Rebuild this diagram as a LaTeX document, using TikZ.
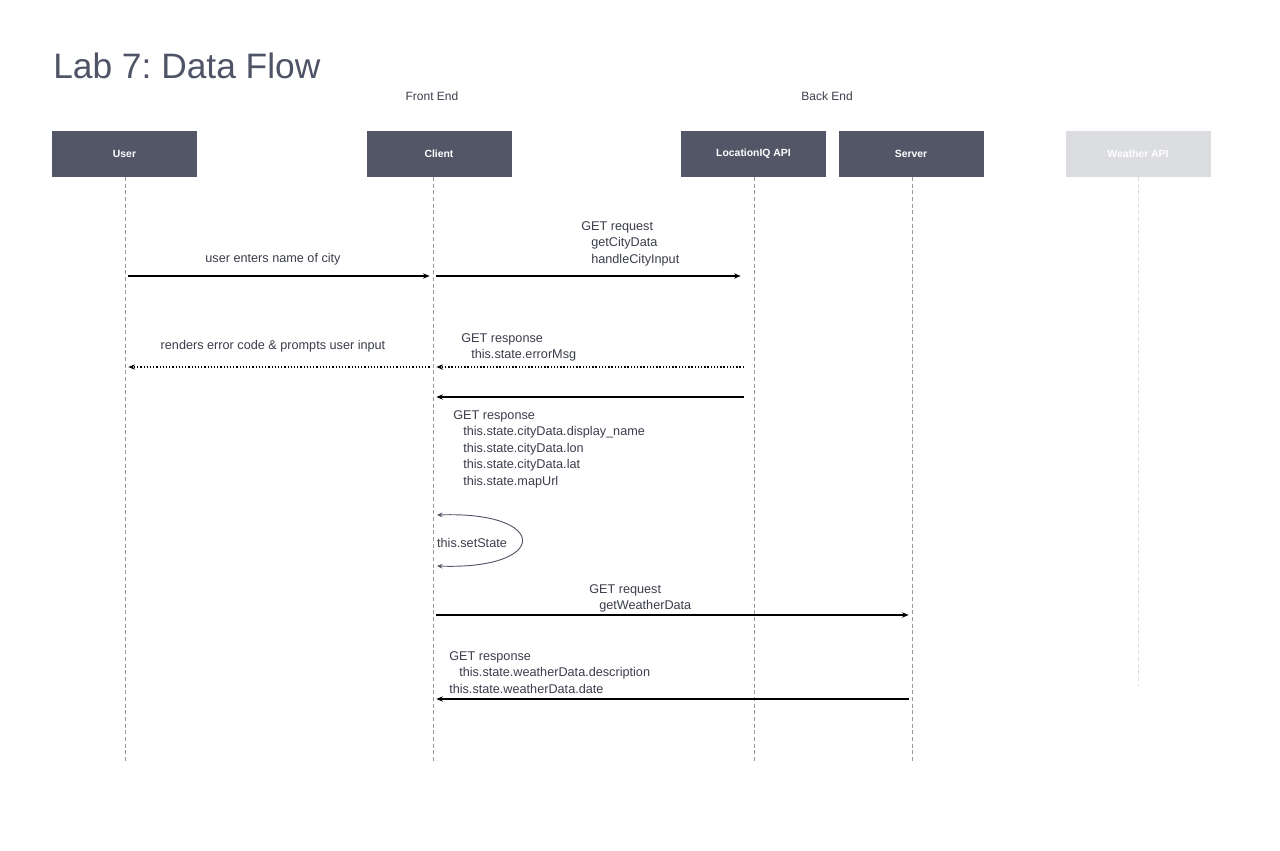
\documentclass[tikz,border=0pt]{standalone}
\usepackage{fontspec}
\setmainfont{Liberation Sans}
\usetikzlibrary{arrows.meta}
\definecolor{slate}{HTML}{525667}
\definecolor{titlegray}{HTML}{4F5366}
\definecolor{inkgray}{HTML}{3A3D4A}
\definecolor{paleblock}{HTML}{DCDDE0}
\tikzset{
  actor/.style={fill=slate,minimum width=108.75pt,minimum height=34.5pt,inner sep=0,
    text=white,font=\bfseries\fontsize{7.8}{9}\selectfont},
  life/.style={draw=gray!80,dashed,line width=0.5pt,dash pattern=on 3pt off 2pt},
  msg/.style={line width=1.1pt,-{Stealth[length=5pt,width=4pt]},shorten >=2.5pt,shorten <=2.5pt},
  reply/.style={msg,dash pattern=on 1pt off 1.4pt},
  note/.style={inner sep=0,text=inkgray,align=left,font=\fontsize{9.5}{12.4}\selectfont},
  group/.style={inner sep=0,text=inkgray,font=\fontsize{9}{11}\selectfont}
}
\newcommand{\ind}{\hspace*{7.5pt}}
\frenchspacing
\begin{document}
\begin{tikzpicture}[x=0.75pt,y=-0.75pt]
\useasboundingbox (0,0) rectangle (1280,850);
\node[anchor=base west,inner sep=0,text=titlegray,font=\fontsize{26.5}{30}\selectfont] (title) at (53,78) {Lab 7: Data Flow};
\node[group] (front) at (432,96) {Front End};
\node[group] (back) at (827,96) {Back End};

% actors
\node[actor] (user) at (124.5,154) {User};
\node[actor] (client) at (439,154) {Client};
\node[actor] (loc) at (753.5,154) {LocationIQ API};
\node[actor] (server) at (911,154) {Server};
\node[actor,fill=paleblock] (weather) at (1138,154) {Weather API};

% lifelines
\draw[life] (125,177) coordinate (userTop) -- (125,762) coordinate (userBot);
\draw[life] (433,177) coordinate (clientTop) -- (433,762) coordinate (clientBot);
\draw[life] (754,177) coordinate (locTop) -- (754,762) coordinate (locBot);
\draw[life] (912,177) coordinate (serverTop) -- (912,762) coordinate (serverBot);
\draw[life,draw=paleblock] (1138,177) coordinate (weatherTop) -- (1138,686) coordinate (weatherBot);

% message points
\coordinate (u1) at (125,276); \coordinate (c1) at (433,276); \coordinate (l1) at (744,276);
\coordinate (u2) at (125,367); \coordinate (c2) at (433,367); \coordinate (l2) at (744,367);
\coordinate (c3) at (433,397); \coordinate (l3) at (744,397);
\coordinate (s1) at (437,515); \coordinate (s2) at (437,566);
\coordinate (c4) at (433,615); \coordinate (v4) at (912,615);
\coordinate (c5) at (433,699); \coordinate (v5) at (912,699);

\draw[msg] (u1) -- (c1);
\node[note] (m1) at (273,259) {user enters name of city};
\draw[msg] (c1) -- (l1);
\node[note,anchor=north west] (m2) at (581,221) {GET request\\ \ind getCityData\\ \ind handleCityInput};

\draw[reply,shorten <=0pt] (l2) -- (c2);
\node[note,anchor=north west] (m3) at (461,333) {GET response\\ \ind this.state.errorMsg};
\draw[reply] (c2) -- (u2);
\node[note] (m4) at (273,346) {renders error code \& prompts user input};

\draw[msg,shorten <=0pt] (l3) -- (c3);
\node[note,anchor=north west] (m5) at (453,410) {GET response\\ \ind this.state.cityData.display\_name\\ \ind this.state.cityData.lon\\ \ind this.state.cityData.lat\\ \ind this.state.mapUrl};

\draw[draw=slate,line width=0.7pt,{Stealth[length=4pt,width=3.5pt]}-{Stealth[length=4pt,width=3.5pt]}]
  (s1) .. controls (550,511) and (550,570) .. (s2);
\node[note] (loop) at (472,543) {this.setState};

\draw[msg] (c4) -- (v4);
\node[note,anchor=north west] (m7) at (589,584) {GET request\\ \ind getWeatherData};
\draw[msg] (v5) -- (c5);
\node[note,anchor=north west] (m8) at (449,651) {GET response\\ \ind this.state.weatherData.description\\ this.state.weatherData.date};
\end{tikzpicture}
\end{document}
